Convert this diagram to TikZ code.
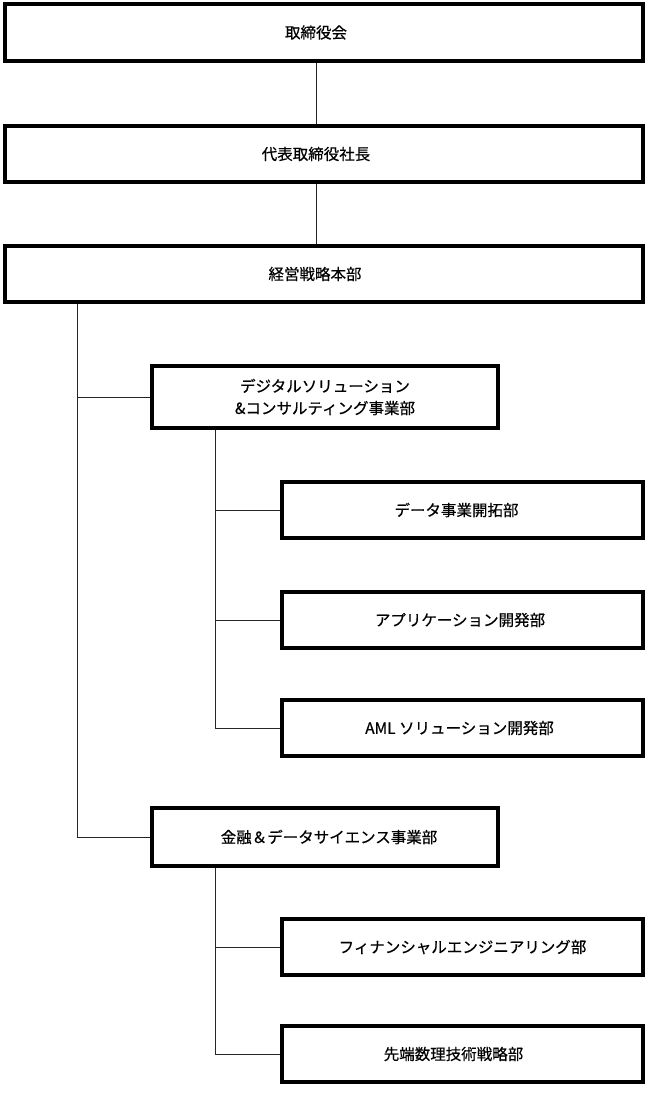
\documentclass[tikz,border=0pt]{standalone}
\usepackage{fontspec}
\newfontfamily\jp[FakeBold=0.5]{Noto Sans CJK JP}
\begin{document}
\begin{tikzpicture}[x=1pt,y=-1pt,
  orgbox/.style={draw=black, line width=3.6pt, fill=white,
    inner sep=0pt, font=\jp\fontsize{15.5}{22}\selectfont},
  link/.style={draw=black!85, line width=0.9pt}]
\useasboundingbox (0,0) rectangle (650,1100);
\node[orgbox, minimum width=638, minimum height=57] (b1) at (324,32.5) {\kern-16pt 取締役会};
\node[orgbox, minimum width=638, minimum height=56] (b2) at (324,154) {\kern-16pt 代表取締役社長};
\node[orgbox, minimum width=638, minimum height=56] (b3) at (324,274) {\kern-18pt 経営戦略本部};
\node[orgbox, align=center, minimum width=346, minimum height=62] (b4) at (325,397) {デジタルソリューション\\\&コンサルティング事業部};
\node[orgbox, minimum width=361, minimum height=56] (b5) at (462.5,510) {\kern-12pt データ事業開拓部};
\node[orgbox, minimum width=361, minimum height=56] (b6) at (462.5,620) {\kern-5pt アプリケーション開発部};
\node[orgbox, minimum width=361, minimum height=56] (b7) at (462.5,728) {\kern-6pt AML ソリューション開発部};
\node[orgbox, minimum width=346, minimum height=58] (b8) at (325,837) {\kern8pt 金融＆データサイエンス事業部};
\node[orgbox, minimum width=361, minimum height=56] (b9) at (462.5,947) {フィナンシャルエンジニアリング部};
\node[orgbox, minimum width=361, minimum height=56] (b10) at (462.5,1054) {\kern-18pt 先端数理技術戦略部};
\coordinate (c) at (316,0);
\coordinate (t) at (77,0);
\coordinate (s) at (215,0);
\draw[link] (c |- b1.south) -- (c |- b2.north);
\draw[link] (c |- b2.south) -- (c |- b3.north);
\draw[link] (t |- b3.south) |- (b8.west);
\draw[link] (t |- b4.west) -- (b4.west);
\draw[link] (s |- b4.south) |- (b7.west);
\draw[link] (s |- b5.west) -- (b5.west);
\draw[link] (s |- b6.west) -- (b6.west);
\draw[link] (s |- b8.south) |- (b10.west);
\draw[link] (s |- b9.west) -- (b9.west);
\end{tikzpicture}
\end{document}
